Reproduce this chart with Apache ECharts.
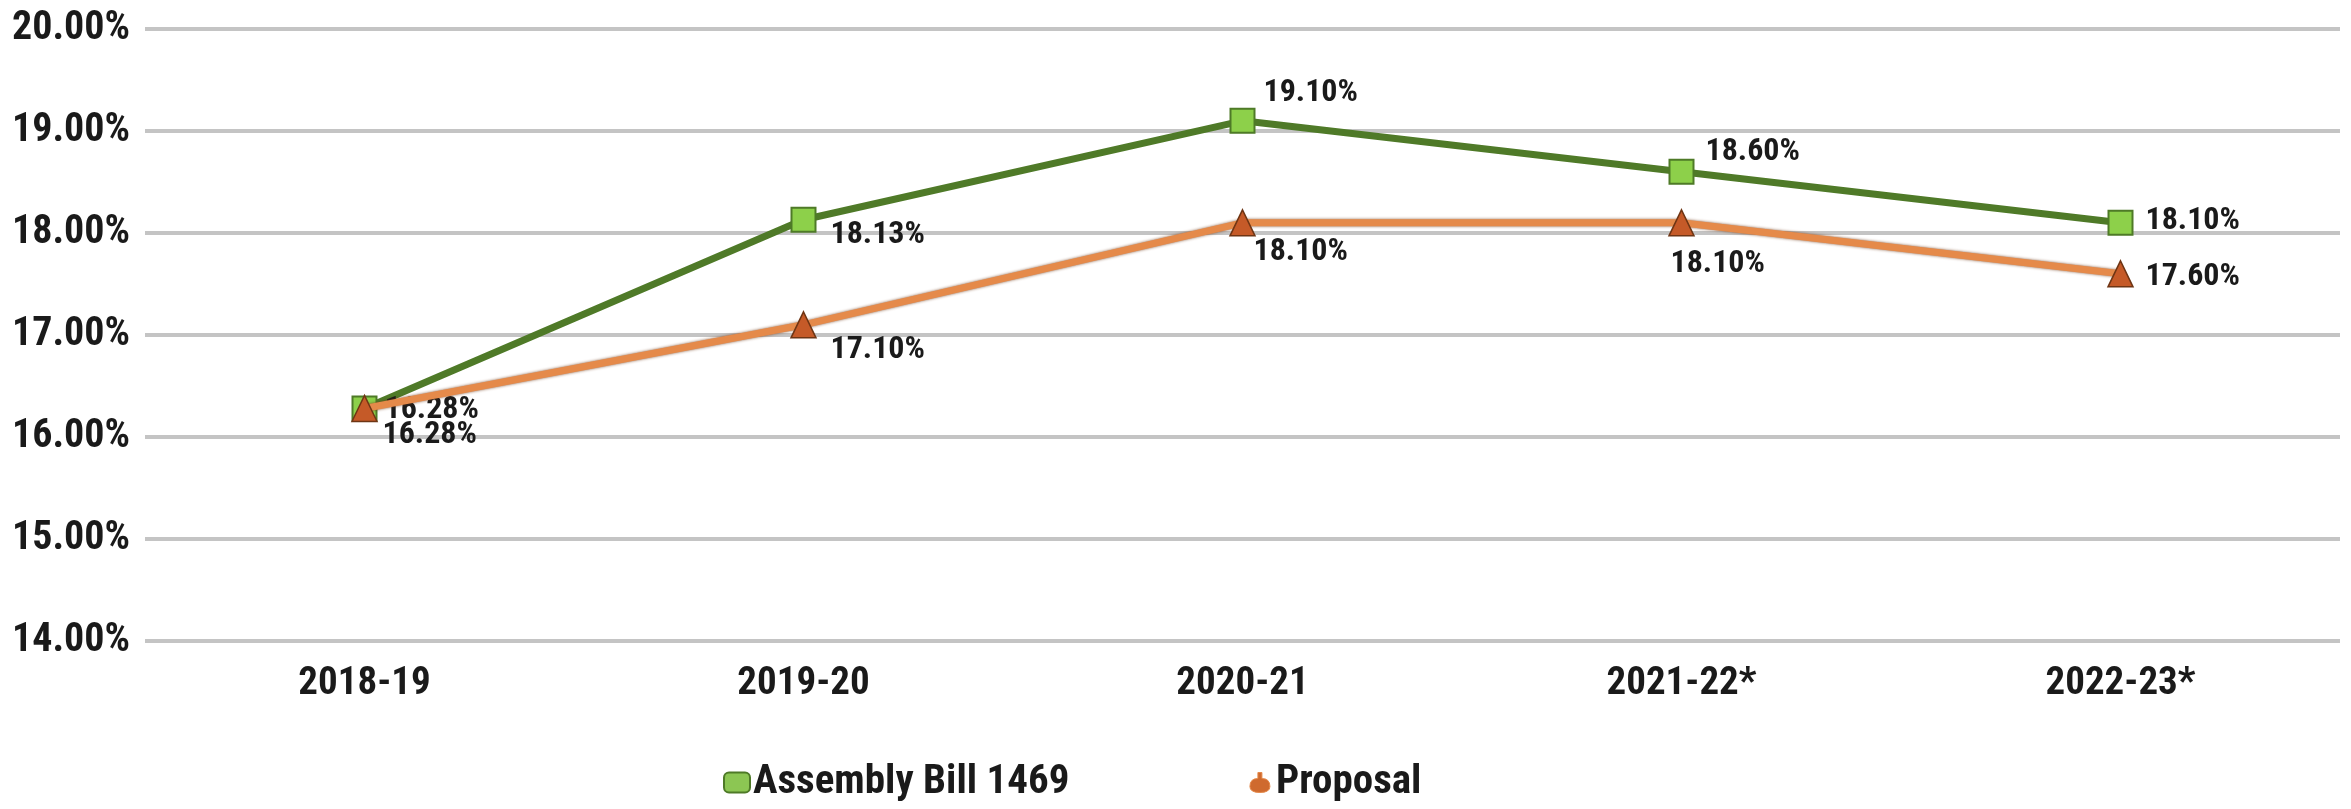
<!DOCTYPE html>
<html>
<head>
<meta charset="utf-8">
<script src="https://cdn.jsdelivr.net/npm/echarts@6/dist/echarts.min.js"></script>
<style>
html,body{margin:0;padding:0;background:#fff;}
#chart{width:2351px;height:809px;}
</style>
</head>
<body>
<div id="chart"></div>
<script>
const categories = ['2018-19', '2019-20', '2020-21', '2021-22*', '2022-23*'];
const assemblyBill = [16.28, 18.13, 19.10, 18.60, 18.10];
const proposal = [16.28, 17.10, 18.10, 18.10, 17.60];
const yTicks = { min: 14, max: 20, interval: 1 };

const FONT = "'Roboto Condensed', 'Open Sans Condensed', sans-serif";

const abOffsets = [[20, 2], [27, 15], [21, -28], [24, -20], [25, -2]];
const prOffsets = [[18, 27], [27, 25], [11, 29], [-11, 41], [25, 3]];

function withLabels(values, offsets) {
  return values.map((v, i) => ({
    value: v,
    label: { offset: offsets[i] }
  }));
}

const labelBase = {
  show: true,
  position: 'inside',
  align: 'left',
  verticalAlign: 'middle',
  fontFamily: FONT,
  fontWeight: 'bold',
  fontSize: 32,
  color: '#1a1a1a',
  formatter: p => p.value.toFixed(2) + '%'
};

const chart = echarts.init(document.getElementById('chart'));
chart.setOption({
  animation: false,
  backgroundColor: '#ffffff',
  grid: { left: 145, right: 11, top: 29, bottom: 168, containLabel: false },
  legend: {
    left: 723,
    top: 762,
    padding: 0,
    itemWidth: 26,
    itemHeight: 20,
    itemGap: 180,
    textStyle: { fontFamily: FONT, fontWeight: 'bold', fontSize: 41, color: '#1a1a1a', padding: [0, 0, 0, -2] },
    data: [
      { name: 'Assembly Bill 1469', icon: 'roundRect', itemStyle: { color: '#8cc653', borderColor: '#4e7a27', borderWidth: 2 } },
      { name: 'Proposal', icon: 'path://M4,0 L6,0 L6,3 Q10,3 10,7 Q10,10 5,10 Q0,10 0,7 Q0,3 4,3 Z', itemStyle: { color: '#cf6a2e', borderColor: '#e5894a', borderWidth: 1 } }
    ]
  },
  xAxis: {
    type: 'category',
    data: categories,
    boundaryGap: true,
    axisLine: { show: false },
    axisTick: { show: false },
    axisLabel: { margin: 24, fontFamily: FONT, fontWeight: 'bold', fontSize: 39, color: '#1a1a1a' }
  },
  yAxis: {
    type: 'value',
    min: yTicks.min,
    max: yTicks.max,
    interval: yTicks.interval,
    axisLine: { show: false },
    axisTick: { show: false },
    axisLabel: {
      margin: 15,
      fontFamily: FONT, fontWeight: 'bold', fontSize: 40, color: '#1a1a1a',
      formatter: v => v.toFixed(2) + '%'
    },
    splitLine: { lineStyle: { color: '#c4c4c4', width: 4 } }
  },
  series: [
    {
      name: 'Assembly Bill 1469',
      type: 'line',
      data: withLabels(assemblyBill, abOffsets),
      symbol: 'rect',
      symbolSize: 24,
      lineStyle: { color: '#4f7a28', width: 7 },
      itemStyle: { color: '#8dd04a', borderColor: '#4e7a27', borderWidth: 2 },
      label: labelBase,
      z: 2
    },
    {
      name: 'Proposal',
      type: 'line',
      data: withLabels(proposal, prOffsets),
      symbol: 'triangle',
      symbolSize: [25, 26],
      lineStyle: { color: '#e58a4a', width: 7, shadowColor: 'rgba(110,55,20,0.8)', shadowBlur: 3 },
      itemStyle: { color: '#c55a28', borderColor: '#6e3514', borderWidth: 1.5 },
      label: labelBase,
      z: 3
    }
  ]
});
</script>
</body>
</html>
